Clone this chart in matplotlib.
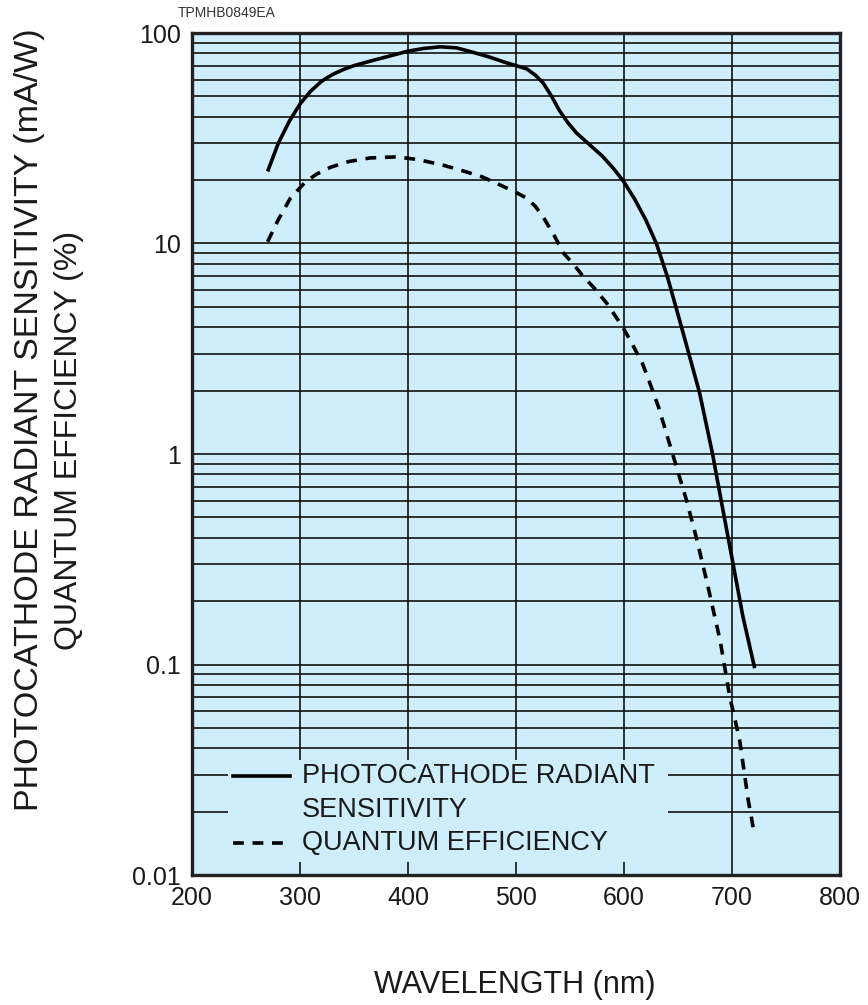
import matplotlib
matplotlib.use("Agg")
import matplotlib.pyplot as plt
from matplotlib.patches import Rectangle
from matplotlib.lines import Line2D
from matplotlib.ticker import LogLocator, FixedLocator, NullFormatter

plt.rcParams['font.family'] = ['Liberation Sans', 'DejaVu Sans']

# Photocathode radiant sensitivity (mA/W)
wl_sens = [270, 280, 290, 300, 310, 320, 330, 340, 350, 365, 380, 400, 415, 430,
           445, 460, 475, 490, 500, 510, 518, 525, 533, 540, 548, 556, 568, 580,
           590, 600, 610, 620, 630, 640, 650, 660, 670, 682, 690, 700, 710, 721]
sens = [22, 30, 38, 46, 53, 59, 63.5, 67, 70, 73.5, 77, 82, 84.5, 86,
        85, 81, 77, 72.5, 70, 67.5, 63, 58, 50, 43, 37.5, 33.5, 29.5, 26,
        22.8, 19.6, 16.2, 13, 10, 7.0, 4.6, 3.0, 1.95, 1.0, 0.6, 0.32, 0.17, 0.096]

# Quantum efficiency (%)
wl_qe = [270, 280, 291, 305, 315, 328, 345, 365, 390, 410, 432, 450, 469, 485,
         500, 510, 518, 525, 535, 544, 553, 562, 573, 584, 599, 608, 617, 625,
         632, 644, 658, 667, 677, 689, 698, 707, 715, 720]
qe = [10.2, 13, 16.4, 19.6, 21.3, 23, 24.5, 25.5, 25.8, 25, 23.6, 22.2, 20.7, 19,
      17.5, 16.4, 15, 13.4, 11, 9.0, 8.0, 7.0, 6.1, 5.2, 4.0, 3.3, 2.7, 2.1,
      1.67, 1.04, 0.6, 0.4, 0.244, 0.13, 0.07, 0.044, 0.0227, 0.0164]

x_ticks = [200, 300, 400, 500, 600, 700, 800]
y_ticks = [0.01, 0.1, 1, 10, 100]
y_ticklabels = ["0.01", "0.1", "1", "10", "100"]
label_sens = "PHOTOCATHODE RADIANT\nSENSITIVITY"
label_qe = "QUANTUM EFFICIENCY"

BG = "#cdeefa"

fig = plt.figure(figsize=(8.68, 10.05), dpi=100)
ax = fig.add_axes([192/868, 1-875/1005, 648/868, 842/1005])
ax.set_facecolor(BG)
ax.set_yscale("log")
ax.set_xlim(200, 800)
ax.set_ylim(0.01, 100)

ax.xaxis.set_major_locator(FixedLocator(x_ticks))
ax.set_xticklabels([str(t) for t in x_ticks])
ax.yaxis.set_major_locator(FixedLocator(y_ticks))
ax.set_yticklabels(y_ticklabels)
ax.yaxis.set_minor_locator(LogLocator(base=10, subs=range(2, 10), numticks=20))
ax.yaxis.set_minor_formatter(NullFormatter())
ax.tick_params(axis="both", which="both", length=0, labelsize=18, colors="#1a1a1a")
ax.tick_params(axis="x", pad=8)
ax.tick_params(axis="y", pad=8)

ax.set_axisbelow(True)
ax.grid(True, axis="x", which="major", color="#111111", linewidth=1.2)
ax.grid(True, axis="y", which="both", color="#111111", linewidth=1.2)
for s in ax.spines.values():
    s.set_linewidth(2.4)
    s.set_color("#222222")

# legend area box (covers grid)
ax.add_patch(Rectangle((0.0556, 0.0154), 0.679, 0.1212, transform=ax.transAxes,
                       facecolor=BG, edgecolor="none", zorder=1))

ax.plot(wl_sens, sens, color="black", linewidth=2.6, zorder=3,
        solid_joinstyle="round", solid_capstyle="butt")
ax.plot(wl_qe, qe, color="black", linewidth=2.6, zorder=3,
        dashes=(3.0, 2.4), dash_capstyle="butt", dash_joinstyle="round")

# legend drawn manually
ax.add_line(Line2D([0.0633, 0.1512], [0.1176, 0.1176], transform=ax.transAxes,
                   color="black", linewidth=2.6, zorder=4))
ax.add_line(Line2D([0.0633, 0.1512], [0.038, 0.038], transform=ax.transAxes,
                   color="black", linewidth=2.6, dashes=(3.0, 2.4), zorder=4))
lines = label_sens.split("\n")
ax.text(0.1698, 0.1176, lines[0], transform=ax.transAxes, fontsize=19.5,
        va="center", ha="left", color="#1a1a1a", zorder=4)
ax.text(0.1698, 0.0772, lines[1], transform=ax.transAxes, fontsize=19.5,
        va="center", ha="left", color="#1a1a1a", zorder=4)
ax.text(0.1698, 0.038, label_qe, transform=ax.transAxes, fontsize=19.5,
        va="center", ha="left", color="#1a1a1a", zorder=4)

fig.text(515/868, 1-985/1005, "WAVELENGTH (nm)", fontsize=22, ha="center",
         va="center", color="#1a1a1a")
fig.text(30/868, 1-420/1005, "PHOTOCATHODE RADIANT SENSITIVITY (mA/W)", fontsize=24.5,
         rotation=90, ha="center", va="center", color="#1a1a1a")
fig.text(69/868, 1-440/1005, "QUANTUM EFFICIENCY (%)", fontsize=23,
         rotation=90, ha="center", va="center", color="#1a1a1a")
fig.text(178/868, 1-13/1005, "TPMHB0849EA", fontsize=10, ha="left", va="center",
         color="#333333")

fig.savefig("out.png", dpi=100)
